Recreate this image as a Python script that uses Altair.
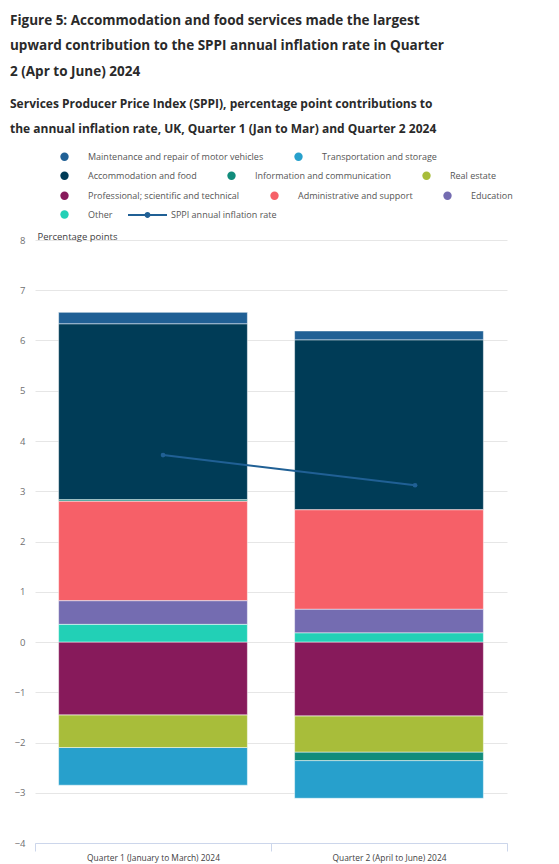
import altair as alt
import pandas as pd

quarters = ["Quarter 1 (January to March) 2024", "Quarter 2 (April to June) 2024"]
series = [
    "Maintenance and repair of motor vehicles",
    "Transportation and storage",
    "Accommodation and food",
    "Information and communication",
    "Real estate",
    "Professional; scientific and technical",
    "Administrative and support",
    "Education",
    "Other",
]
colors = ["#206095", "#27a0cc", "#003c57", "#118c7b", "#a8bd3a",
          "#871a5b", "#f66068", "#746cb1", "#22d0b6"]
q1_values = [0.23, -0.75, 3.50, 0.03, -0.65, -1.45, 1.98, 0.47, 0.35]
q2_values = [0.18, -0.75, 3.38, -0.17, -0.72, -1.47, 1.98, 0.47, 0.18]
sppi_name = "SPPI annual inflation rate"
sppi_rate = [3.72, 3.12]
legend_rows = [0, 0, 1, 1, 1, 2, 2, 2, 3]

rows = []
for qi, vals in enumerate([q1_values, q2_values]):
    for i, (s, v) in enumerate(zip(series, vals)):
        rows.append({"quarter": quarters[qi], "series": s, "value": v,
                     "rank": len(series) - 1 - i, "lrow": legend_rows[i]})
df = pd.DataFrame(rows)
line_df = pd.DataFrame({"quarter": quarters, "rate": sppi_rate, "name": sppi_name})

FONT = "Open Sans"
LINE_SYMBOL = ("M-1,-0.05L1,-0.05L1,0.05L-1,0.05Z "
               "M0.15,0A0.15,0.15 0 1,1 -0.15,0A0.15,0.15 0 1,1 0.15,0Z")

x_enc = alt.X("quarter:N", sort=quarters, title=None,
              scale=alt.Scale(paddingInner=0, paddingOuter=0),
              axis=alt.Axis(labelAngle=0, labelFontSize=8.4, labelColor="#414042",
                            labelFont=FONT, tickBand="extent", tickSize=8,
                            tickColor="#ccd6eb", domainColor="#ccd6eb",
                            labelPadding=2, grid=False))
# the rate line sits on its own category positions, as in the original
x_line = alt.X("quarter:N", sort=quarters, title=None,
               scale=alt.Scale(type="point", padding=0.4365, align=0.582),
               axis=None)
y_scale = alt.Scale(domain=[-4, 8], nice=False)
y_axis = alt.Axis(values=list(range(-4, 9)), labelFontSize=9.5, labelColor="#707071",
                  labelFont=FONT, labelPadding=10, ticks=False, domain=False,
                  gridColor="#e6e6e6", title="Percentage points", titleAngle=0,
                  titleAlign="left", titleX=2, titleY=-1, titleBaseline="alphabetic",
                  titleFontSize=9.5, titleFontWeight="normal", titleColor="#414042",
                  titleFont=FONT)

base = alt.Chart(df).transform_stack(
    stack="value", groupby=["quarter"], as_=["y0", "y1"],
    sort=[alt.SortField("rank", order="ascending")], offset="zero")

legend_y = [-88, -69, -49, -30]
layers = []
for r in range(4):
    items = [s for s, rr in zip(series, legend_rows) if rr == r]
    cols = [c for c, rr in zip(colors, legend_rows) if rr == r]
    layers.append(
        base.transform_filter(alt.FieldOneOfPredicate(field="series", oneOf=items))
        .mark_bar(width=alt.RelativeBandSize(0.8), stroke="#ffffff", strokeWidth=0.5)
        .encode(
            x=x_enc,
            y=alt.Y("y0:Q", scale=y_scale, axis=y_axis),
            y2="y1:Q",
            fill=alt.Fill("series:N", scale=alt.Scale(domain=items, range=cols),
                          legend=alt.Legend(orient="none", legendX=25, legendY=legend_y[r],
                                            direction="horizontal", title=None)),
        )
    )
bars = alt.layer(*layers).resolve_scale(fill="independent")

line = alt.Chart(line_df).mark_line(strokeWidth=2).encode(
    x=x_line,
    y=alt.Y("rate:Q", scale=y_scale, axis=y_axis),
    stroke=alt.Stroke("name:N", scale=alt.Scale(domain=[sppi_name], range=["#206095"]),
                      legend=alt.Legend(orient="none", legendX=93, legendY=-44.5,
                                        direction="horizontal", title=None,
                                        symbolType=LINE_SYMBOL, symbolSize=1521,
                                        symbolFillColor="#206095",
                                        symbolStrokeWidth=0, labelOffset=4)),
)
pts = alt.Chart(line_df).mark_circle(size=22, color="#206095", opacity=1).encode(
    x=x_line, y=alt.Y("rate:Q", scale=y_scale, axis=y_axis))
rate = alt.layer(line, pts)

chart = alt.layer(bars, rate).resolve_scale(x="independent", fill="independent").properties(
    width=472, height=603,
    autosize=alt.AutoSizeParams(type="none"),
    padding={"left": 27, "top": 232, "right": 44, "bottom": 22},
    title=alt.TitleParams(
        text=["Figure 5: Accommodation and food services made the largest",
              "upward contribution to the SPPI annual inflation rate in Quarter",
              "2 (Apr to June) 2024"],
        subtitle=["Services Producer Price Index (SPPI), percentage point contributions to",
                  "the annual inflation rate, UK, Quarter 1 (Jan to Mar) and Quarter 2 2024"],
        anchor="start", frame="group", dx=-25, font=FONT, fontSize=13.5, fontWeight="bold",
        color="#2a2a2a", lineHeight=25.5, subtitleFont=FONT, subtitleFontSize=12,
        subtitleFontWeight="bold", subtitleColor="#2a2a2a", subtitleLineHeight=25,
        subtitlePadding=21, offset=17),
).configure_view(stroke=None).configure_legend(
    symbolType="circle", symbolSize=70, symbolStrokeWidth=0, labelFont=FONT,
    labelFontSize=9, labelColor="#555555", labelOffset=19, columnPadding=30,
    labelLimit=400, padding=0,
)

chart.save("out.html", embed_options={"renderer": "svg", "actions": False})
